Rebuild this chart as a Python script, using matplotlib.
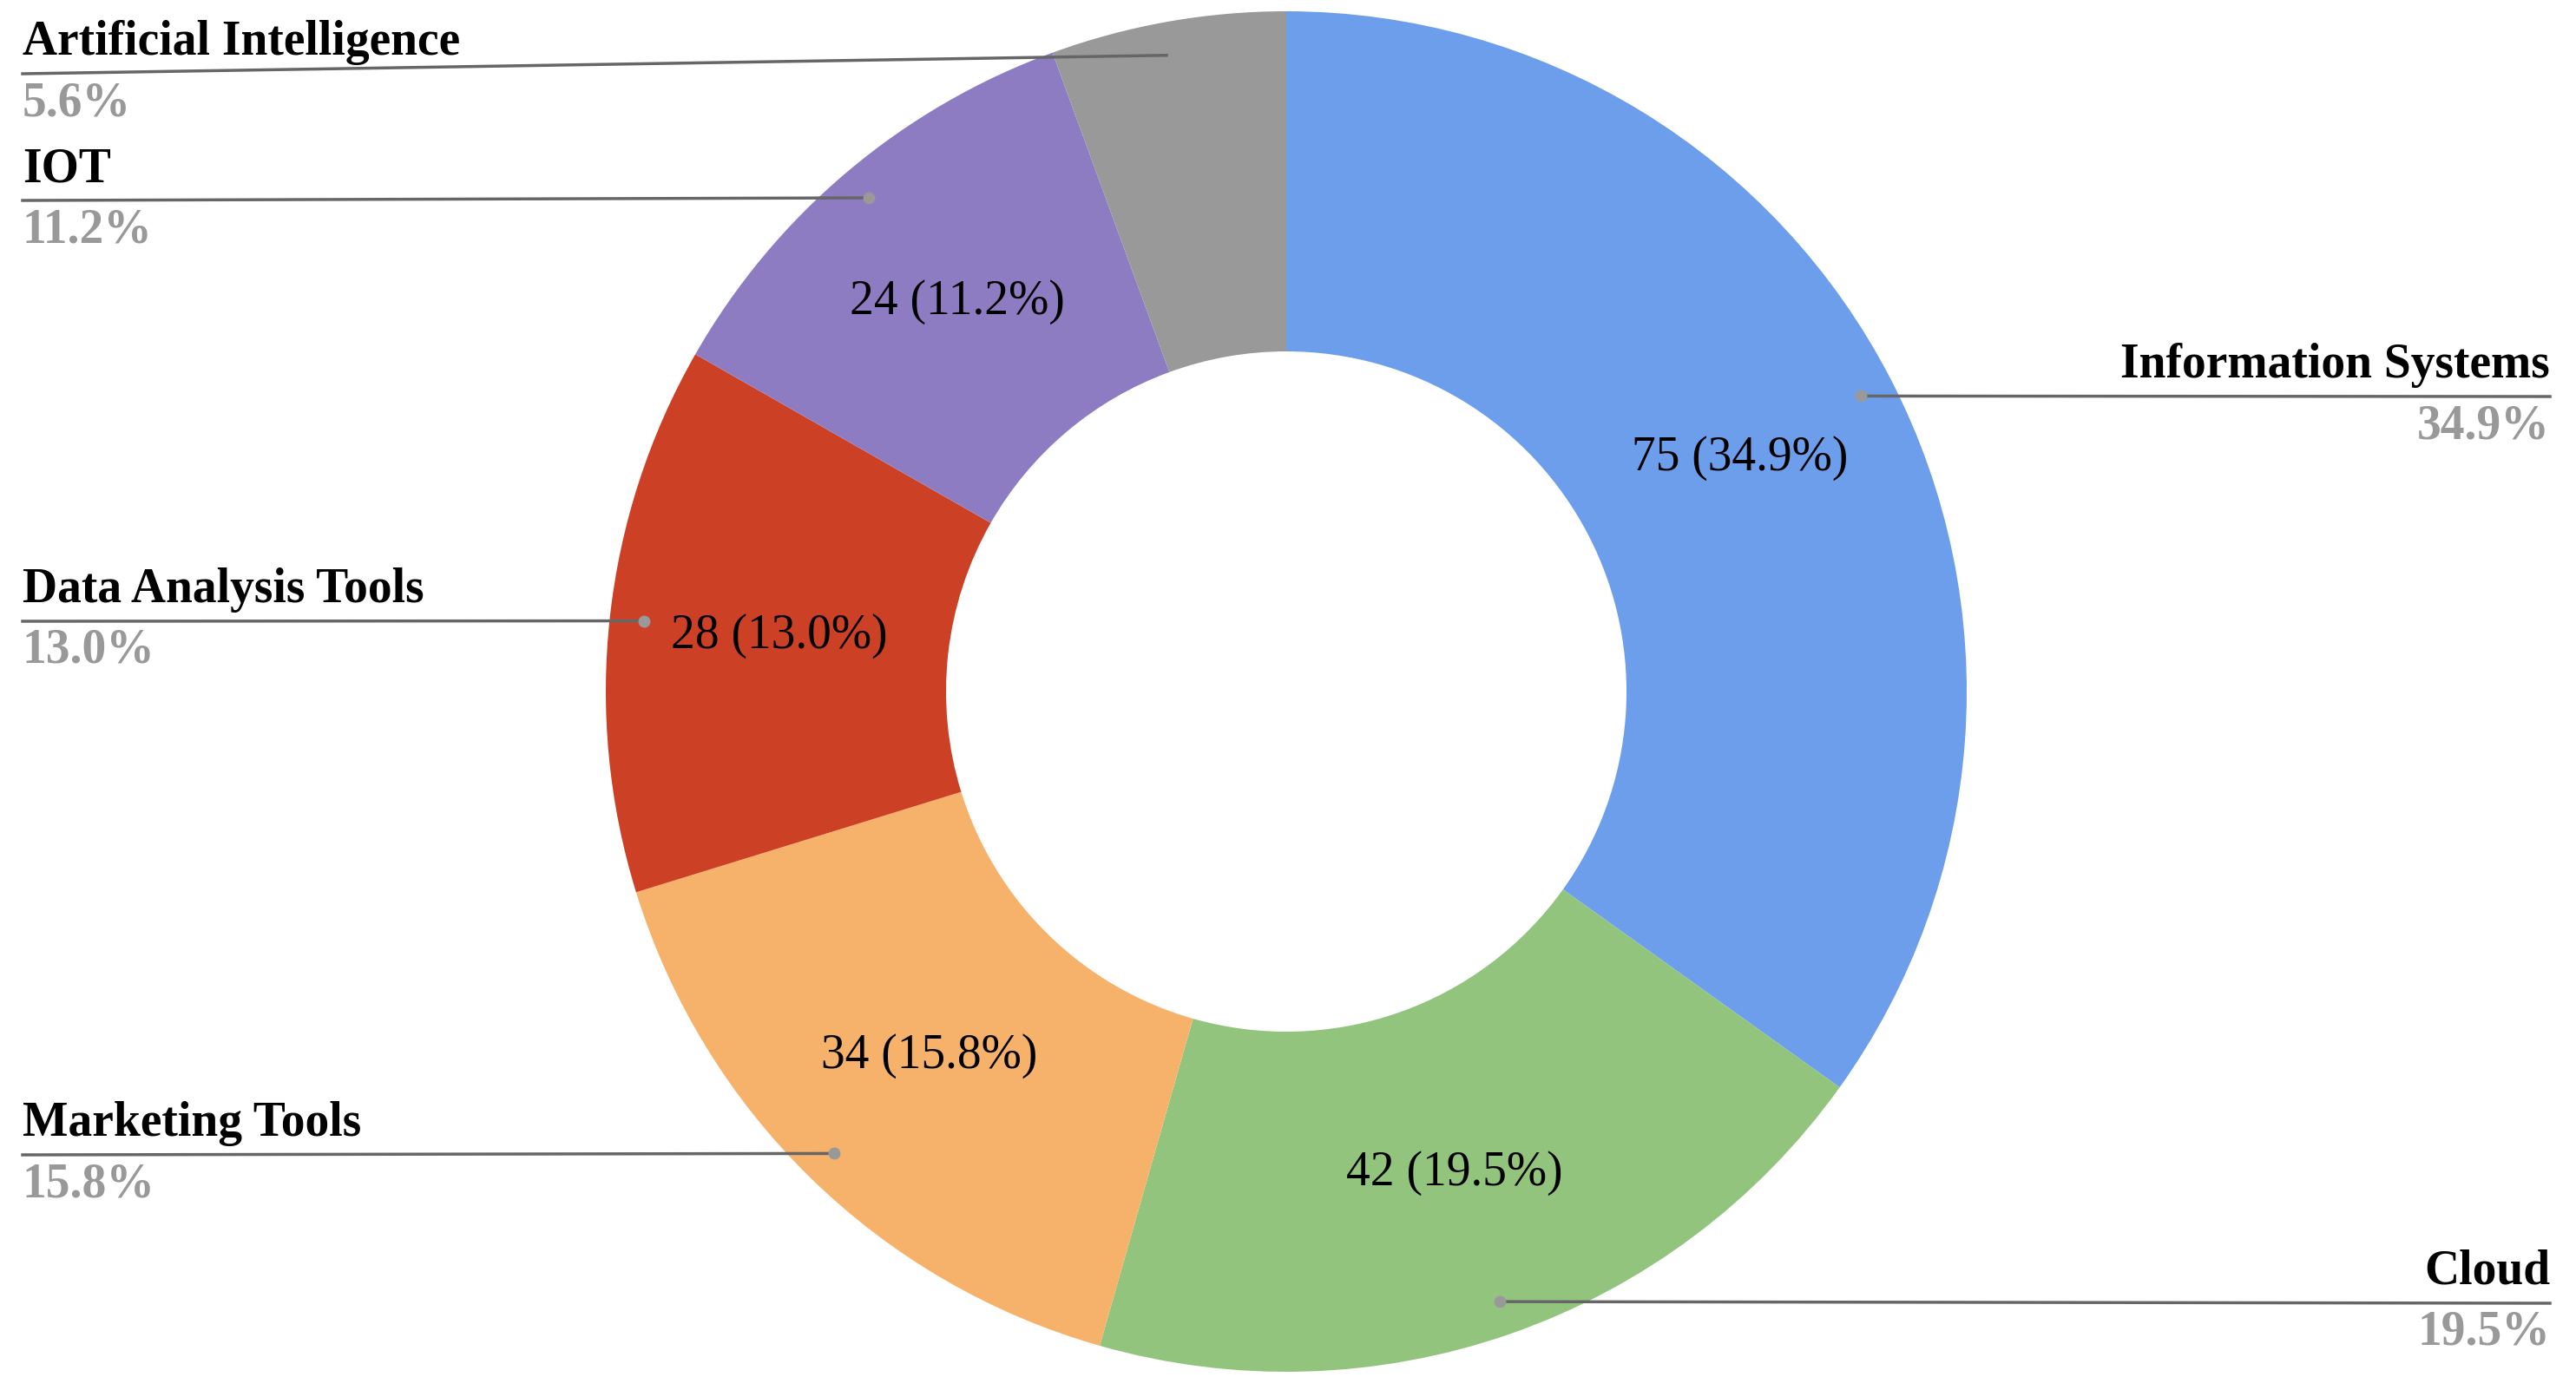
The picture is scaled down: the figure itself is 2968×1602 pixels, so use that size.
import numpy as np
import matplotlib
matplotlib.use("Agg")
import matplotlib.pyplot as plt

categories = ["Information Systems", "Cloud", "Marketing Tools", "Data Analysis Tools", "IOT", "Artificial Intelligence"]
values = [75, 42, 34, 28, 24, 12]
colors = ["#6D9EEB", "#93C47D", "#F6B26B", "#CC4125", "#8E7CC3", "#999999"]

W, H = 2968, 1602
fig = plt.figure(figsize=(W/100, H/100), dpi=100)
ax = fig.add_axes([0, 0, 1, 1])
ax.set_xlim(0, W); ax.set_ylim(0, H); ax.set_aspect("equal"); ax.axis("off")

cx, cy, R = 1482, 805, 784
ax.pie(values, colors=colors, startangle=90, counterclock=False, center=(cx, cy),
       radius=R, wedgeprops=dict(width=R*0.5, linewidth=0), frame=True)
ax.set_xlim(0, W); ax.set_ylim(0, H); ax.axis("off")

total = sum(values)
serif = "Liberation Serif"
cum = 0
# label layout: (side, line_y in px from top, label text x)
layout = {
    "Information Systems": ("R", 457),
    "Cloud": ("R", 1502),
    "Marketing Tools": ("L", 1331),
    "Data Analysis Tools": ("L", 716),
    "IOT": ("L", 231),
    "Artificial Intelligence": ("L", 85),
}
for cat, v in zip(categories, values):
    frac = v / total
    mid = (cum + frac/2) * 2*np.pi
    cum += frac
    dx, dy = np.sin(mid), np.cos(mid)
    pct = 100*frac
    if cat != "Artificial Intelligence":
        ax.text(cx + 0.75*R*dx, cy + 0.75*R*dy, f"{v} ({pct:.1f}%)", ha="center", va="center",
                fontsize=40, family=serif, color="black")
    px, py = cx + 0.95*R*dx, cy + 0.95*R*dy
    side, ly = layout[cat]
    ly = H - ly
    ax.plot([px], [py], "o", color="#999999", ms=9, zorder=5)
    if side == "L":
        ex = 26
        ax.plot([px, ex], [py, ly], color="#666666", lw=2.5, zorder=4)
        ax.text(ex, ly + 10, cat, ha="left", va="bottom", fontsize=40, family=serif, weight="bold")
        ax.text(ex, ly - 8, f"{pct:.1f}%", ha="left", va="top", fontsize=40, family=serif,
                weight="bold", color="#999999")
    else:
        ex = W - 30
        ax.plot([px, ex], [py, ly], color="#666666", lw=2.5, zorder=4)
        ax.text(ex, ly + 10, cat, ha="right", va="bottom", fontsize=40, family=serif, weight="bold")
        ax.text(ex, ly - 8, f"{pct:.1f}%", ha="right", va="top", fontsize=40, family=serif,
                weight="bold", color="#999999")

fig.savefig("out.png", dpi=100)
